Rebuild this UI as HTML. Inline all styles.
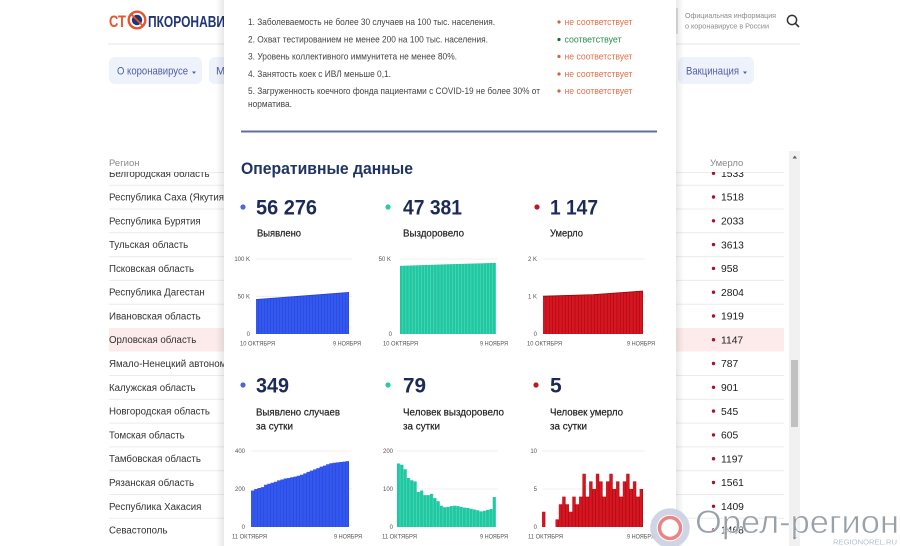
<!DOCTYPE html>
<html><head><meta charset="utf-8">
<style>
html,body{margin:0;padding:0;background:#fff;width:900px;height:546px;overflow:hidden}
svg{display:block;font-family:"Liberation Sans","DejaVu Sans",sans-serif}
</style></head><body>
<svg width="900" height="546" viewBox="0 0 900 546" xmlns="http://www.w3.org/2000/svg">
<defs>
 <linearGradient id="shL" x1="0" x2="1" y1="0" y2="0"><stop offset="0" stop-color="#000" stop-opacity="0"/><stop offset="1" stop-color="#000" stop-opacity="0.09"/></linearGradient>
 <linearGradient id="shR" x1="1" x2="0" y1="0" y2="0"><stop offset="0" stop-color="#000" stop-opacity="0"/><stop offset="1" stop-color="#000" stop-opacity="0.09"/></linearGradient>
 <clipPath id="tbl"><rect x="100" y="172" width="690" height="362"/></clipPath>
 <pattern id="p1" patternUnits="userSpaceOnUse" x="256" y="0" width="3" height="20"><rect width="3" height="20" fill="#2442cf"/><rect width="2.5" height="20" fill="#3358f0"/></pattern>
 <pattern id="p2" patternUnits="userSpaceOnUse" x="400" y="0" width="3.097" height="20"><rect width="3.097" height="20" fill="#6fdcc2"/><rect width="2.6" height="20" fill="#1ec8a1"/></pattern>
 <pattern id="p3" patternUnits="userSpaceOnUse" x="543" y="0" width="3.226" height="20"><rect width="3.226" height="20" fill="#8e0a14"/><rect width="2.7" height="20" fill="#d9151f"/></pattern>
 <pattern id="p4" patternUnits="userSpaceOnUse" x="251" y="0" width="3.2667" height="20"><rect width="3.2667" height="20" fill="#2442cf"/><rect width="2.75" height="20" fill="#3358f0"/></pattern>
 <pattern id="p5" patternUnits="userSpaceOnUse" x="397" y="0" width="3.3" height="20"><rect width="3.3" height="20" fill="#6fdcc2"/><rect width="2.8" height="20" fill="#1ec8a1"/></pattern>
 <pattern id="p6" patternUnits="userSpaceOnUse" x="542" y="0" width="3.3667" height="20"><rect width="3.3667" height="20" fill="#8e0a14"/><rect width="2.8" height="20" fill="#d9151f"/></pattern>
</defs>

<rect x="0" y="0" width="900" height="546" fill="#fff"/>

<text x="109" y="27" font-size="17" font-weight="bold" fill="#e8542e" textLength="17" lengthAdjust="spacingAndGlyphs">СТ</text>
<circle cx="137" cy="20" r="8.3" fill="#fff" stroke="#e8542e" stroke-width="2.4"/>
<circle cx="137" cy="20" r="5.2" fill="#1f3576"/>
<line x1="131" y1="14" x2="143" y2="26" stroke="#e8542e" stroke-width="1.8"/>
<text x="148" y="27" font-size="16" font-weight="bold" fill="#1f3576" textLength="77" lengthAdjust="spacingAndGlyphs">ПКОРОНАВИ</text>

<line x1="677" y1="8" x2="677" y2="34" stroke="#d5d5d5" stroke-width="1.5"/>
<text x="685" y="18" font-size="7.3" fill="#8b8b8b" textLength="91" lengthAdjust="spacingAndGlyphs">Официальная информация</text>
<text x="685" y="28.5" font-size="7.3" fill="#8b8b8b" textLength="84" lengthAdjust="spacingAndGlyphs">о коронавирусе в России</text>
<circle cx="792" cy="20" r="4.6" fill="none" stroke="#333" stroke-width="1.5"/>
<line x1="795.3" y1="23.3" x2="799" y2="27" stroke="#333" stroke-width="1.6"/>
<line x1="108" y1="44" x2="800" y2="44" stroke="#e6e6e6" stroke-width="1"/>

<rect x="109" y="57" width="93" height="27" rx="6" fill="#eef2fb"/>
<text x="117" y="74.5" font-size="11" fill="#4f5fa6" textLength="71" lengthAdjust="spacingAndGlyphs">О коронавирусе</text>
<path d="M192 71.5 L196 71.5 L194 74 Z" fill="#4f5fa6"/>
<rect x="209" y="57" width="60" height="27" rx="6" fill="#eef2fb"/>
<text x="216" y="74.5" font-size="11" fill="#4f5fa6">М</text>
<rect x="678" y="57" width="76" height="27" rx="6" fill="#eef2fb"/>
<text x="686" y="74.5" font-size="11" fill="#4f5fa6" textLength="53" lengthAdjust="spacingAndGlyphs">Вакцинация</text>
<path d="M743 71.5 L747 71.5 L745 74 Z" fill="#4f5fa6"/>

<text x="109" y="166" font-size="9.5" fill="#8a8a8a">Регион</text>
<text x="710" y="166" font-size="9.5" fill="#8a8a8a">Умерло</text>

<g clip-path="url(#tbl)">
 <rect x="109" y="328" width="675" height="23.5" fill="#fcebea"/>
 <g stroke="#ececec" stroke-width="1">
  <line x1="109" y1="172.5" x2="784" y2="172.5"/>
  <line x1="109" y1="185.2" x2="784" y2="185.2"/>
  <line x1="109" y1="209" x2="784" y2="209"/>
  <line x1="109" y1="232.8" x2="784" y2="232.8"/>
  <line x1="109" y1="256.6" x2="784" y2="256.6"/>
  <line x1="109" y1="280.4" x2="784" y2="280.4"/>
  <line x1="109" y1="304.2" x2="784" y2="304.2"/>
  <line x1="109" y1="375.5" x2="784" y2="375.5"/>
  <line x1="109" y1="399.3" x2="784" y2="399.3"/>
  <line x1="109" y1="423.1" x2="784" y2="423.1"/>
  <line x1="109" y1="446.9" x2="784" y2="446.9"/>
  <line x1="109" y1="470.7" x2="784" y2="470.7"/>
  <line x1="109" y1="494.5" x2="784" y2="494.5"/>
  <line x1="109" y1="518.2" x2="784" y2="518.2"/>
 </g>
 <g font-size="9.7" fill="#333">
  <text x="109" y="176.8">Белгородская область</text>
  <text x="109" y="200.5">Республика Саха (Якутия)</text>
  <text x="109" y="224.3">Республика Бурятия</text>
  <text x="109" y="248.1">Тульская область</text>
  <text x="109" y="271.9">Псковская область</text>
  <text x="109" y="295.7">Республика Дагестан</text>
  <text x="109" y="319.5">Ивановская область</text>
  <text x="109" y="343.2">Орловская область</text>
  <text x="109" y="367">Ямало-Ненецкий автономный округ</text>
  <text x="109" y="390.8">Калужская область</text>
  <text x="109" y="414.6">Новгородская область</text>
  <text x="109" y="438.4">Томская область</text>
  <text x="109" y="462.2">Тамбовская область</text>
  <text x="109" y="486">Рязанская область</text>
  <text x="109" y="509.8">Республика Хакасия</text>
  <text x="109" y="533.5">Севастополь</text>
 </g>
 <g fill="#a0142e">
  <circle cx="713.5" cy="173.3" r="1.7"/><circle cx="713.5" cy="197" r="1.7"/><circle cx="713.5" cy="220.8" r="1.7"/>
  <circle cx="713.5" cy="244.6" r="1.7"/><circle cx="713.5" cy="268.4" r="1.7"/><circle cx="713.5" cy="292.2" r="1.7"/>
  <circle cx="713.5" cy="316" r="1.7"/><circle cx="713.5" cy="339.7" r="1.7"/><circle cx="713.5" cy="363.5" r="1.7"/>
  <circle cx="713.5" cy="387.3" r="1.7"/><circle cx="713.5" cy="411.1" r="1.7"/><circle cx="713.5" cy="434.9" r="1.7"/>
  <circle cx="713.5" cy="458.7" r="1.7"/><circle cx="713.5" cy="482.5" r="1.7"/><circle cx="713.5" cy="506.3" r="1.7"/>
  <circle cx="713.5" cy="530" r="1.7"/>
 </g>
 <g font-size="10.3" fill="#1c1c1c">
  <text x="721" y="177">1533</text>
  <text x="721" y="200.7">1518</text>
  <text x="721" y="224.5">2033</text>
  <text x="721" y="248.3">3613</text>
  <text x="721" y="272.1">958</text>
  <text x="721" y="295.9">2804</text>
  <text x="721" y="319.7">1919</text>
  <text x="721" y="343.4">1147</text>
  <text x="721" y="367.2">787</text>
  <text x="721" y="391">901</text>
  <text x="721" y="414.8">545</text>
  <text x="721" y="438.6">605</text>
  <text x="721" y="462.4">1197</text>
  <text x="721" y="486.2">1561</text>
  <text x="721" y="510">1409</text>
  <text x="721" y="533.7">1468</text>
 </g>
</g>

<rect x="789" y="151" width="11" height="395" fill="#f1f1f1"/>
<path d="M792.5 158.5 L797 158.5 L794.75 155.5 Z" fill="#606060"/>
<rect x="791" y="360" width="7" height="67" fill="#c1c1c1"/>
<path d="M792.5 537 L797 537 L794.75 540 Z" fill="#606060"/>

<rect x="216" y="0" width="8" height="546" fill="url(#shL)"/>
<rect x="676" y="0" width="8" height="546" fill="url(#shR)"/>
<rect x="224" y="0" width="452" height="546" fill="#fff"/>

<g font-size="8.8" fill="#444">
 <text x="248" y="25" textLength="247" lengthAdjust="spacingAndGlyphs">1. Заболеваемость не более 30 случаев на 100 тыс. населения.</text>
 <text x="248" y="42.5" textLength="240" lengthAdjust="spacingAndGlyphs">2. Охват тестированием не менее 200 на 100 тыс. населения.</text>
 <text x="248" y="59.5" textLength="209" lengthAdjust="spacingAndGlyphs">3. Уровень коллективного иммунитета не менее 80%.</text>
 <text x="248" y="77" textLength="143" lengthAdjust="spacingAndGlyphs">4. Занятость коек с ИВЛ меньше 0,1.</text>
 <text x="248" y="94" textLength="292" lengthAdjust="spacingAndGlyphs">5. Загруженность коечного фонда пациентами с COVID-19 не более 30% от</text>
 <text x="248" y="107" textLength="44" lengthAdjust="spacingAndGlyphs">норматива.</text>
</g>
<g font-size="8.8">
 <circle cx="559" cy="22" r="1.6" fill="#d9603a"/>
 <text x="564.5" y="25" fill="#e2704a" textLength="68" lengthAdjust="spacingAndGlyphs">не соответствует</text>
 <circle cx="559" cy="39.5" r="1.6" fill="#1d6b3a"/>
 <text x="564.5" y="42.5" fill="#2f8a4a" textLength="57" lengthAdjust="spacingAndGlyphs">соответствует</text>
 <circle cx="559" cy="56.5" r="1.6" fill="#d9603a"/>
 <text x="564.5" y="59.5" fill="#e2704a" textLength="68" lengthAdjust="spacingAndGlyphs">не соответствует</text>
 <circle cx="559" cy="74" r="1.6" fill="#d9603a"/>
 <text x="564.5" y="77" fill="#e2704a" textLength="68" lengthAdjust="spacingAndGlyphs">не соответствует</text>
 <circle cx="559" cy="91" r="1.6" fill="#d9603a"/>
 <text x="564.5" y="94" fill="#e2704a" textLength="68" lengthAdjust="spacingAndGlyphs">не соответствует</text>
</g>
<rect x="241" y="130.5" width="416" height="2" fill="#5c7199"/>

<text x="241" y="174" font-size="16.5" font-weight="bold" fill="#1e3462" textLength="172" lengthAdjust="spacingAndGlyphs">Оперативные данные</text>

<circle cx="243" cy="207" r="2.6" fill="#4d68d6"/>
<circle cx="388" cy="207" r="2.6" fill="#2ccaa3"/>
<circle cx="537" cy="207" r="2.6" fill="#c0162c"/>
<g font-size="21" font-weight="bold" fill="#1b2a57">
 <text x="256" y="214.5" textLength="61" lengthAdjust="spacingAndGlyphs">56 276</text>
 <text x="403" y="214.5" textLength="59" lengthAdjust="spacingAndGlyphs">47 381</text>
 <text x="550" y="214.5" textLength="48" lengthAdjust="spacingAndGlyphs">1 147</text>
</g>
<g font-size="10.5" fill="#222" stroke="#222" stroke-width="0.2">
 <text x="257" y="236.5" textLength="44" lengthAdjust="spacingAndGlyphs">Выявлено</text>
 <text x="403" y="236.5" textLength="61" lengthAdjust="spacingAndGlyphs">Выздоровело</text>
 <text x="550" y="236.5" textLength="33" lengthAdjust="spacingAndGlyphs">Умерло</text>
</g>

<g stroke="#efefef" stroke-width="1">
 <line x1="256" y1="259" x2="352" y2="259"/><line x1="256" y1="296.5" x2="352" y2="296.5"/>
 <line x1="400" y1="259" x2="498" y2="259"/>
 <line x1="543" y1="259" x2="645" y2="259"/><line x1="543" y1="296.5" x2="645" y2="296.5"/>
</g>
<path d="M256 334 L256 299.5 L349 292.4 L349 334 Z" fill="url(#p1)"/>
<line x1="256" y1="299.5" x2="349" y2="292.4" stroke="#2442cf" stroke-width="0.8"/>
<path d="M400 334 L400 265.9 L448 264.2 L496 262.9 L496 334 Z" fill="url(#p2)"/>
<path d="M543 334 L543 296.2 L593 294.6 L643 291 L643 334 Z" fill="url(#p3)"/>
<polyline points="543,296.2 593,294.6 643,291" fill="none" stroke="#8e0a14" stroke-width="0.8"/>

<g font-size="6" fill="#555" text-anchor="end">
 <text x="250" y="261">100 K</text><text x="250" y="298.5">50 K</text><text x="250" y="336">0</text>
 <text x="391" y="261">50 K</text><text x="392" y="336">0</text>
 <text x="537" y="261">2 K</text><text x="537" y="298.5">1 K</text><text x="537" y="336">0</text>
</g>
<g font-size="6" fill="#555">
 <text x="240" y="345.5" textLength="35" lengthAdjust="spacingAndGlyphs">10 ОКТЯБРЯ</text>
 <text x="333" y="345.5" textLength="28" lengthAdjust="spacingAndGlyphs">9 НОЯБРЯ</text>
 <text x="383" y="345.5" textLength="35" lengthAdjust="spacingAndGlyphs">10 ОКТЯБРЯ</text>
 <text x="480" y="345.5" textLength="28" lengthAdjust="spacingAndGlyphs">9 НОЯБРЯ</text>
 <text x="527" y="345.5" textLength="35" lengthAdjust="spacingAndGlyphs">10 ОКТЯБРЯ</text>
 <text x="627" y="345.5" textLength="28" lengthAdjust="spacingAndGlyphs">9 НОЯБРЯ</text>
</g>

<circle cx="243" cy="385" r="2.6" fill="#4d68d6"/>
<circle cx="388" cy="385" r="2.6" fill="#2ccaa3"/>
<circle cx="536" cy="385" r="2.6" fill="#c0162c"/>
<g font-size="21" font-weight="bold" fill="#1b2a57">
 <text x="256" y="392.5" textLength="33" lengthAdjust="spacingAndGlyphs">349</text>
 <text x="403" y="392.5" textLength="23" lengthAdjust="spacingAndGlyphs">79</text>
 <text x="550" y="392.5">5</text>
</g>
<g font-size="10.5" fill="#222" stroke="#222" stroke-width="0.2">
 <text x="256" y="415.5" textLength="84" lengthAdjust="spacingAndGlyphs">Выявлено случаев</text>
 <text x="256" y="429.5" textLength="37" lengthAdjust="spacingAndGlyphs">за сутки</text>
 <text x="403" y="415.5" textLength="101" lengthAdjust="spacingAndGlyphs">Человек выздоровело</text>
 <text x="403" y="429.5" textLength="37" lengthAdjust="spacingAndGlyphs">за сутки</text>
 <text x="550" y="415.5" textLength="73" lengthAdjust="spacingAndGlyphs">Человек умерло</text>
 <text x="550" y="429.5" textLength="37" lengthAdjust="spacingAndGlyphs">за сутки</text>
</g>

<g stroke="#efefef" stroke-width="1">
 <line x1="251" y1="451" x2="352" y2="451"/><line x1="251" y1="489" x2="352" y2="489"/>
 <line x1="397" y1="451" x2="498" y2="451"/><line x1="397" y1="489" x2="498" y2="489"/>
 <line x1="542" y1="451" x2="645" y2="451"/><line x1="542" y1="489" x2="645" y2="489"/>
</g>
<path d="M251 527 V490.5 H254.27 V489 H257.53 V488 H260.8 V487.1 H264.07 V484.8 H267.33 V483.7 H270.6 V482.7 H273.87 V481.8 H277.13 V480.4 H280.4 V479.5 H283.67 V478.5 H286.93 V478 H290.2 V477.2 H293.47 V476.6 H296.73 V475.7 H300 V474.7 H303.27 V473.4 H306.53 V471.9 H309.8 V470.6 H313.07 V469.4 H316.33 V468.1 H319.6 V466.6 H322.87 V465.6 H326.13 V464.3 H329.4 V463.3 H332.67 V462.8 H335.93 V462.4 H339.2 V462 H342.47 V461.6 H345.73 V461.1 H349 V527 Z" fill="url(#p4)"/>
<path d="M397 527 V463.5 H400.3 V464.7 H403.6 V469.2 H406.9 V478 H410.2 V480.3 H413.5 V481.4 H416.8 V492 H420.1 V490.5 H423.4 V495.1 H426.7 V495.1 H430 V493.9 H433.3 V498.1 H436.6 V501.2 H439.9 V505.7 H443.2 V507.2 H446.5 V506.9 H449.8 V506.1 H453.1 V505.7 H456.4 V506.1 H459.7 V506.9 H463 V507.6 H466.3 V508 H469.6 V508.8 H472.9 V509.5 H476.2 V510.3 H479.5 V511.4 H482.8 V510.7 H486.1 V509.9 H489.4 V509.1 H492.7 V497 H496 V527 Z" fill="url(#p5)"/>
<path d="M542 527 V511.8 H545.37 V527 H555.47 V519.4 H558.83 V504.2 H562.2 V496.6 H565.57 V504.2 H568.93 V511.8 H572.3 V496.6 H575.67 V504.2 H579.03 V496.6 H582.4 V473.8 H585.77 V496.6 H589.13 V481.4 H592.5 V489 H595.87 V473.8 H599.23 V481.4 H602.6 V496.6 H605.97 V481.4 H609.33 V473.8 H612.7 V489 H616.07 V481.4 H619.43 V496.6 H622.8 V481.4 H626.17 V473.8 H629.53 V489 H632.9 V481.4 H636.27 V496.6 H639.63 V489 H643 V527 Z" fill="url(#p6)"/>

<g font-size="6" fill="#555" text-anchor="end">
 <text x="245" y="453">400</text><text x="245" y="491">200</text><text x="245" y="529">0</text>
 <text x="393" y="453">200</text><text x="393" y="491">100</text><text x="393" y="529">0</text>
 <text x="537" y="453">10</text><text x="537" y="491">5</text><text x="537" y="529">0</text>
</g>
<g font-size="6" fill="#555">
 <text x="232" y="538.5" textLength="35" lengthAdjust="spacingAndGlyphs">11 ОКТЯБРЯ</text>
 <text x="334" y="538.5" textLength="28" lengthAdjust="spacingAndGlyphs">9 НОЯБРЯ</text>
 <text x="382" y="538.5" textLength="35" lengthAdjust="spacingAndGlyphs">11 ОКТЯБРЯ</text>
 <text x="480" y="538.5" textLength="28" lengthAdjust="spacingAndGlyphs">9 НОЯБРЯ</text>
 <text x="528" y="538.5" textLength="35" lengthAdjust="spacingAndGlyphs">11 ОКТЯБРЯ</text>
 <text x="627" y="538.5" textLength="28" lengthAdjust="spacingAndGlyphs">9 НОЯБРЯ</text>
</g>

<circle cx="670" cy="528" r="16.5" fill="rgba(255,255,255,0.5)" stroke="#cdd3e4" stroke-width="6.5" opacity="0.95"/>
<circle cx="670" cy="528" r="10.5" fill="rgba(255,255,255,0.7)" stroke="#e98585" stroke-width="3.5"/>
<text x="695" y="533" font-size="32" fill="#8e979f" fill-opacity="0.9" stroke="#fff" stroke-width="0.6" textLength="204" lengthAdjust="spacingAndGlyphs">Орел-регион</text>
<text x="833" y="544.5" font-size="7" fill="#b8c2cc" textLength="64" lengthAdjust="spacingAndGlyphs">REGIONOREL.RU</text>
</svg>
</body></html>
